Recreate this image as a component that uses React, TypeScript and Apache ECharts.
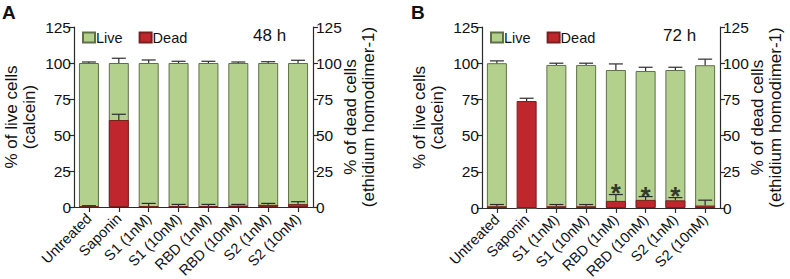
import React, { useEffect, useRef } from "react";
import * as echarts from "echarts";

const categories = ["Untreated", "Saponin", "S1 (1nM)", "S1 (10nM)", "RBD (1nM)", "RBD (10nM)", "S2 (1nM)", "S2 (10nM)"];
const yTicks = [0, 25, 50, 75, 100, 125];

// Panel A (48 h)
const liveA = [100, 100, 100, 100, 100, 100, 100, 100];
const liveErrA = [0.7, 3.3, 2.1, 1.2, 1.2, 0.7, 0.9, 1.9];
const deadA = [0.3, 60.4, 0.3, 0.3, 0.5, 1.0, 1.5, 2.0];
const deadErrA = [0.6, 4.0, 2.2, 1.5, 1.3, 0.8, 1.0, 1.7];

// Panel B (72 h)
const liveB = [100, 0, 98.8, 98.8, 95.3, 94.6, 95.3, 98.6];
const liveErrB = [1.6, 0, 1.2, 1.2, 4.2, 2.6, 1.9, 4.2];
const deadB = [1.2, 73.9, 1.2, 1.2, 4.9, 5.6, 5.3, 1.7];
const deadErrB = [1.2, 1.9, 1.2, 1.2, 4.4, 2.3, 1.9, 3.7];

// Significance markers (panel B): [category index, height]
const starsB = [[4, 14.6], [5, 12.4], [6, 12.4]];

const FONT = "'Liberation Sans', Arial, Helvetica, sans-serif";
const GREEN = "#b3d08c";
const GREEN_BORDER = "#5f6f4a";
const RED = "#c0272d";
const RED_BORDER = "#7a1f1f";
const AXIS = "#2a2a2a";

function errSeries(xi: number, yi: number, vals: number[], errs: number[], z: number) {
  return {
    type: "custom",
    xAxisIndex: xi,
    yAxisIndex: yi,
    z,
    silent: true,
    data: vals.map((v, i) => [i, v, v + errs[i]]).filter((d, i) => errs[i] > 0),
    renderItem: (params: any, api: any) => {
      const x = api.value(0);
      const v = api.value(1);
      const t = api.value(2);
      const p0 = api.coord([x, v]);
      const p1 = api.coord([x, t]);
      const hw = 7;
      const st = { stroke: "#2d2d2d", lineWidth: 1.2 };
      return {
        type: "group",
        children: [
          { type: "line", shape: { x1: p0[0], y1: p0[1], x2: p1[0], y2: p1[1] }, style: st },
          { type: "line", shape: { x1: p1[0] - hw, y1: p1[1], x2: p1[0] + hw, y2: p1[1] }, style: st },
        ],
      };
    },
  };
}

function yAxisDef(gi: number, pos: "left" | "right", name: string) {
  return {
    type: "value",
    gridIndex: gi,
    position: pos,
    min: 0,
    max: 125,
    interval: 25,
    name,
    nameLocation: "middle",
    nameRotate: 90,
    nameGap: pos === "left" ? 36 : 28,
    nameMoveOverlap: false,
    nameTextStyle: { fontFamily: FONT, fontSize: 17, color: "#111", lineHeight: 18 },
    axisLine: { show: true, lineStyle: { color: AXIS, width: 1.2 } },
    axisTick: { show: true, length: 5, lineStyle: { color: AXIS, width: 1.2 } },
    axisLabel: { fontFamily: FONT, fontSize: 15.5, color: "#111", margin: 3 },
    splitLine: { show: false },
  };
}

function xAxisDef(gi: number) {
  return {
    type: "category",
    gridIndex: gi,
    data: categories,
    axisLine: { show: true, lineStyle: { color: AXIS, width: 1.2 } },
    axisTick: { show: true, alignWithLabel: true, length: 5, lineStyle: { color: AXIS, width: 1.2 } },
    axisLabel: {
      fontFamily: FONT,
      fontSize: 14.5,
      color: "#111",
      rotate: 45,
      margin: 9,
      interval: 0,
      hideOverlap: false,
      overflow: "none",
    },
  };
}

function barSeries(name: string, xi: number, yi: number, vals: number[], color: string, border: string, z: number) {
  return {
    name,
    type: "bar",
    xAxisIndex: xi,
    yAxisIndex: yi,
    data: vals,
    barWidth: 20,
    barGap: "-100%",
    z,
    itemStyle: { color, borderColor: border, borderWidth: 1 },
  };
}

export default function App() {
  const ref = useRef<HTMLDivElement>(null);
  useEffect(() => {
    document.body.style.margin = "0";
    if (!ref.current) return;
    const chart = echarts.init(ref.current, null, { renderer: "svg" });
    const legendCommon = {
      itemWidth: 12,
      itemHeight: 10,
      itemGap: 16,
      padding: 0,
      icon: "rect",
      textStyle: { fontFamily: FONT, fontSize: 14.5, color: "#111", padding: [0, 0, 0, -4] },
      data: ["Live", "Dead"],
      selectedMode: false,
    };
    const titleText = { fontFamily: FONT, fontSize: 17, fontWeight: "normal", color: "#111" };
    const panelText = { fontFamily: FONT, fontSize: 19, fontWeight: "bold", color: "#111" };
    chart.setOption({
      animation: false,
      backgroundColor: "#fff",
      title: [
        { text: "A", left: 2, top: 3, padding: 0, textStyle: panelText },
        { text: "B", left: 411, top: 3, padding: 0, textStyle: panelText },
        { text: "48 h", left: 253, top: 27, padding: 0, textStyle: titleText },
        { text: "72 h", left: 663, top: 27, padding: 0, textStyle: titleText },
      ],
      legend: [
        { ...legendCommon, left: 82, top: 30 },
        { ...legendCommon, left: 490, top: 30 },
      ],
      grid: [
        { left: 74, right: 477, top: 27, bottom: 72, outerBoundsMode: "none", containLabel: false },
        { left: 482, right: 70, top: 27, bottom: 71, outerBoundsMode: "none", containLabel: false },
      ],
      xAxis: [xAxisDef(0), xAxisDef(1)],
      yAxis: [
        yAxisDef(0, "left", "% of live cells\n(calcein)"),
        yAxisDef(0, "right", "% of dead cells\n(ethidium homodimer-1)"),
        yAxisDef(1, "left", "% of live cells\n(calcein)"),
        yAxisDef(1, "right", "% of dead cells\n(ethidium homodimer-1)"),
      ],
      series: [
        barSeries("Live", 0, 0, liveA, GREEN, GREEN_BORDER, 2),
        barSeries("Dead", 0, 1, deadA, RED, RED_BORDER, 3),
        errSeries(0, 0, liveA, liveErrA, 5),
        errSeries(0, 1, deadA, deadErrA, 6),
        barSeries("Live", 1, 2, liveB, GREEN, GREEN_BORDER, 2),
        barSeries("Dead", 1, 3, deadB, RED, RED_BORDER, 3),
        errSeries(1, 2, liveB, liveErrB, 5),
        errSeries(1, 3, deadB, deadErrB, 6),
        {
          type: "scatter",
          xAxisIndex: 1,
          yAxisIndex: 2,
          symbolSize: 1,
          itemStyle: { color: "rgba(0,0,0,0)" },
          z: 7,
          silent: true,
          data: starsB,
          label: {
            show: true,
            formatter: "*",
            position: "inside",
            offset: [0, 6],
            fontFamily: FONT,
            fontSize: 26,
            fontWeight: "bold",
            color: "#111",
          },
        },
      ],
    });
    return () => chart.dispose();
  }, []);
  return <div ref={ref} style={{ width: 790, height: 279 }} />;
}
